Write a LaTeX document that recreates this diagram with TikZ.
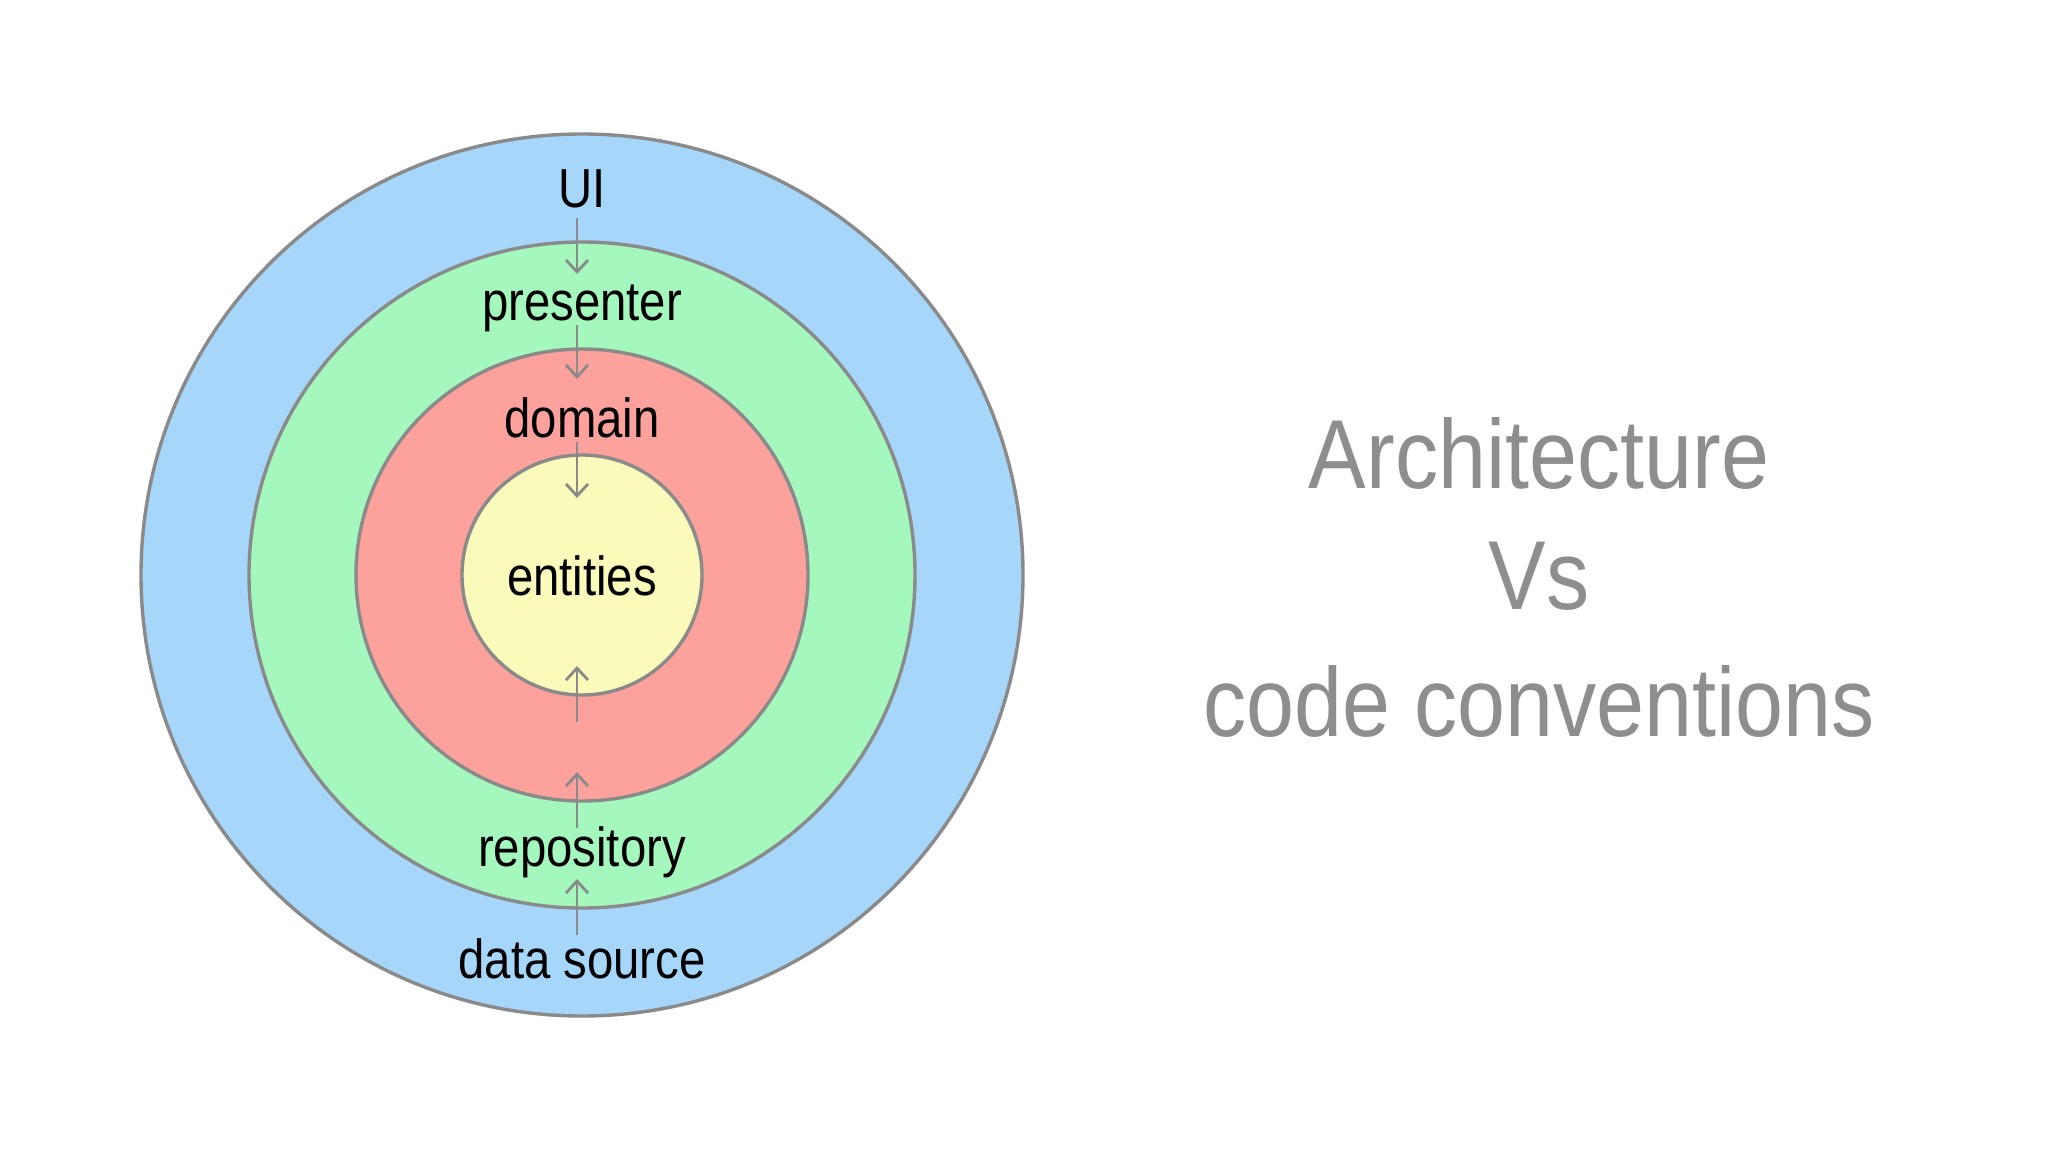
\documentclass[tikz,border=0pt]{standalone}
\usepackage{fontspec}
\setmainfont{Liberation Sans}[FakeStretch=0.86]
\newfontfamily\titlefont{Liberation Sans}[FakeStretch=0.88]
\usetikzlibrary{arrows.meta}
\definecolor{ringline}{HTML}{8A8A8A}
\definecolor{uiblue}{HTML}{A7D6FB}
\definecolor{pgreen}{HTML}{A4F8BE}
\definecolor{dred}{HTML}{FDA19C}
\definecolor{eyellow}{HTML}{FAFABA}
\definecolor{titlegray}{HTML}{8E8E8E}
\tikzset{
  ring/.style={draw=ringline, line width=1.7pt},
  lbl/.style={inner sep=0pt, text=black, font=\fontsize{27.5}{30}\selectfont},
  title/.style={inner sep=0pt, text=titlegray, font=\titlefont\fontsize{49}{52}\selectfont},
  arr/.style={draw=ringline, line width=1.4pt, -{Straight Barb[length=6pt,width=11pt,line width=1.4pt]}},
}
\begin{document}
\begin{tikzpicture}[x=0.5pt,y=-0.5pt]
\useasboundingbox[fill=white] (0,0) rectangle (2048,1152);
% rings
\fill[ring, fill=uiblue] (582,575) circle[radius=441];
\fill[ring, fill=pgreen] (582,575) circle[radius=333];
\fill[ring, fill=dred] (582,575) circle[radius=226];
\fill[ring, fill=eyellow] (582,575) circle[radius=120];
% labels
\node[lbl] (ui) at (582,189) {UI};
\node[lbl] (presenter) at (582,308) {presenter};
\node[lbl] (domain) at (582,418) {domain};
\node[lbl] (entities) at (582,576) {entities};
\node[lbl] (repository) at (582,852) {repository};
\node[lbl] (datasource) at (582,959) {data source};
% arrow end points
\coordinate (a1s) at (577,218); \coordinate (a1e) at (577,274);
\coordinate (a2s) at (577,325); \coordinate (a2e) at (577,379);
\coordinate (a3s) at (577,442); \coordinate (a3e) at (577,498);
\coordinate (b1s) at (577,722); \coordinate (b1e) at (577,666);
\coordinate (b2s) at (577,828); \coordinate (b2e) at (577,772);
\coordinate (b3s) at (577,935); \coordinate (b3e) at (577,879);
\draw[arr] (a1s) -- (a1e);
\draw[arr] (a2s) -- (a2e);
\draw[arr] (a3s) -- (a3e);
\draw[arr] (b1s) -- (b1e);
\draw[arr] (b2s) -- (b2e);
\draw[arr] (b3s) -- (b3e);
% title
\node[title] (t1) at (1539,453) {Architecture};
\node[title] (t2) at (1539,576) {Vs};
\node[title] (t3) at (1539,701) {code conventions};
\end{tikzpicture}
\end{document}
